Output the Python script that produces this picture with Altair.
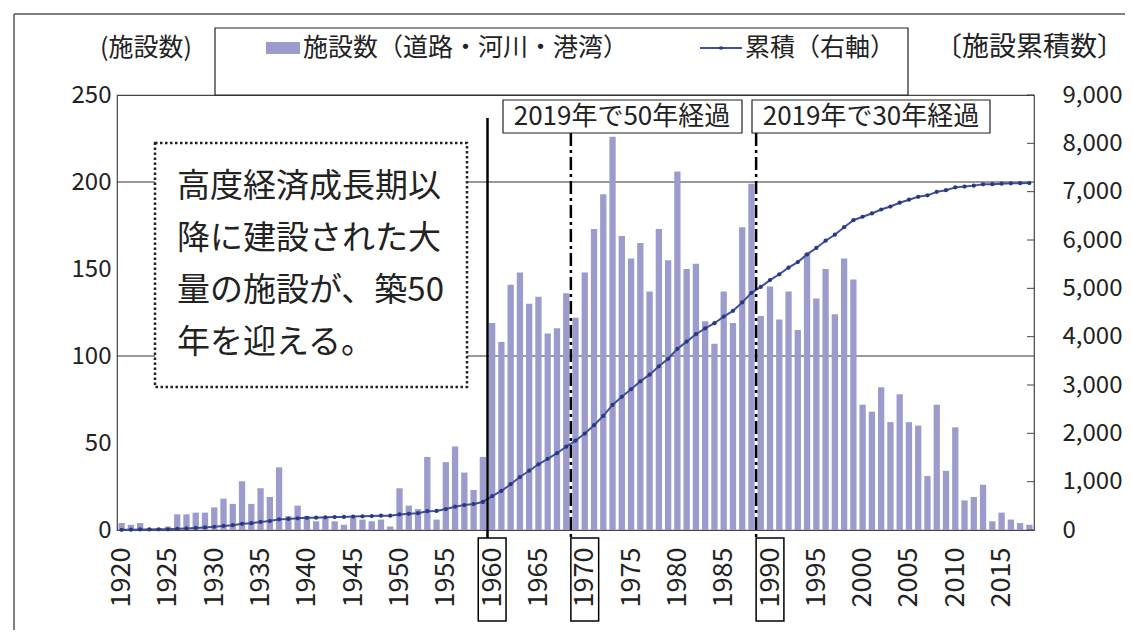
import altair as alt
import pandas as pd

FONT = "Noto Sans CJK JP"

# ---- data ----
years = list(range(1920, 2019))
counts = [
    4, 3, 4, 1, 1, 2, 9, 9, 10, 10,            # 1920-1929
    13, 18, 15, 28, 15, 24, 19, 36, 8, 14,     # 1930-1939
    8, 5, 7, 5, 3, 7, 6, 5, 6, 2,              # 1940-1949
    24, 14, 12, 42, 6, 39, 48, 33, 23, 42,     # 1950-1959
    119, 108, 141, 148, 130, 134, 113, 116, 136, 122,  # 1960-1969
    148, 173, 193, 226, 169, 156, 165, 137, 173, 155,  # 1970-1979
    206, 150, 153, 120, 107, 137, 119, 174, 199, 123,  # 1980-1989
    140, 121, 137, 115, 159, 133, 150, 124, 156, 144,  # 1990-1999
    72, 68, 82, 62, 78, 62, 60, 31, 72, 34,            # 2000-2009
    59, 17, 19, 26, 5, 10, 6, 4, 3,                    # 2010-2018
]
x_tick_years = list(range(1920, 2016, 5))
boxed_label_years = [1960, 1970, 1990]
solid_line_years = [1960]
dash_line_years = [1969, 1989]
left_ticks = [0, 50, 100, 150, 200, 250]
left_grid = [100, 200]
right_ticks = list(range(0, 9001, 1000))

legend_bar_label = "施設数（道路・河川・港湾）"
legend_line_label = "累積（右軸）"
left_title = "(施設数)"
right_title = "〔施設累積数〕"
note_50 = "2019年で50年経過"
note_30 = "2019年で30年経過"
callout = "高度経済成長期以\n降に建設された大\n量の施設が、築50\n年を迎える。"

BAR = "#9c9ccc"
LINE = "#3f4fa0"
DOT = "#2c3878"

W, H = 917, 435
df = pd.DataFrame({"year": years, "count": counts})
xs = alt.Scale(domain=[1919.5, 2018.5], nice=False, zero=False)
ys_left = alt.Scale(domain=[0, 250], nice=False)
ys_right = alt.Scale(domain=[0, 9000], nice=False)
one = pd.DataFrame({"k": [0]})

X_AXIS = alt.Axis(values=x_tick_years, labelExpr="format(datum.value, 'd')", labelAngle=270,
                  labelFont=FONT, labelFontSize=27, labelColor="#222", ticks=False,
                  domain=False, grid=False, title=None, labelPadding=17, labelBound=False,
                  labelOverlap=False)
YL_AXIS = alt.Axis(values=left_ticks, labelFont=FONT, labelFontSize=24, labelColor="#222",
                   ticks=False, domain=False, grid=False, title=None, labelPadding=6,
                   labelOverlap=False)
YR_AXIS = alt.Axis(orient="right", values=right_ticks, labelExpr="format(datum.value, ',')",
                   labelFont=FONT, labelFontSize=24, labelColor="#222", ticks=False,
                   domain=False, grid=False, title=None, labelPadding=28, labelOverlap=False)

grid = alt.Chart(pd.DataFrame({"v": left_grid})).mark_rule(color="#333", strokeWidth=1.2).encode(
    y=alt.Y("v:Q", scale=ys_left, axis=YL_AXIS))

bars = alt.Chart(df).transform_calculate(
    x0="datum.year - 0.34", x1="datum.year + 0.34"
).mark_rect(color=BAR).encode(
    x=alt.X("x0:Q", scale=xs, axis=X_AXIS),
    x2="x1:Q",
    y=alt.Y("count:Q", scale=ys_left, axis=YL_AXIS),
    y2=alt.datum(0),
)
left_group = alt.layer(grid, bars)

line = alt.Chart(df).transform_window(
    cum="sum(count)", sort=[alt.SortField("year")], frame=[None, 0]
).mark_line(color=LINE, strokeWidth=2,
            point=alt.OverlayMarkDef(filled=True, size=18, color=DOT)).encode(
    x=alt.X("year:Q", scale=xs, axis=X_AXIS),
    y=alt.Y("cum:Q", scale=ys_right, axis=YR_AXIS),
)
rticks = alt.Chart(pd.DataFrame({"v": right_ticks})).mark_rule(color="#444").encode(
    y=alt.Y("v:Q", scale=ys_right, axis=YR_AXIS), x=alt.value(W - 7), x2=alt.value(W))
right_group = alt.layer(rticks, line)

# vertical marker lines at the left edge of the marked years
solid = alt.Chart(pd.DataFrame({"year": solid_line_years})).transform_calculate(
    xe="datum.year - 0.5").mark_rule(color="#000", strokeWidth=2.5).encode(
    x=alt.X("xe:Q", scale=xs, axis=X_AXIS), y=alt.value(23), y2=alt.value(443))
dash = alt.Chart(pd.DataFrame({"year": dash_line_years})).transform_calculate(
    xe="datum.year - 0.5").mark_rule(color="#000", strokeWidth=2.5,
                                     strokeDash=[13, 4, 3, 4]).encode(
    x=alt.X("xe:Q", scale=xs, axis=X_AXIS), y=alt.value(38), y2=alt.value(443))
label_boxes = alt.Chart(pd.DataFrame({"year": boxed_label_years})).transform_calculate(
    a="datum.year - 1.5", b="datum.year + 1.5").mark_rect(
    fillOpacity=0, stroke="#000", strokeWidth=1.5).encode(
    x=alt.X("a:Q", scale=xs, axis=X_AXIS), x2="b:Q", y=alt.value(443), y2=alt.value(526))


def box(x1, y1, x2, y2, **kw):
    return alt.Chart(one).mark_rect(**kw).encode(
        x=alt.value(x1), x2=alt.value(x2), y=alt.value(y1), y2=alt.value(y2))


def text(s, x, y, size, align="left", **kw):
    return alt.Chart(pd.DataFrame({"t": [s]})).mark_text(
        font=FONT, fontSize=size, align=align, baseline="middle", color="#222", **kw
    ).encode(text="t:N", x=alt.value(x), y=alt.value(y))


note_boxes = alt.layer(
    box(386, 5, 625, 38, fill="white", stroke="#222", strokeWidth=1.2),
    text(note_50, 505, 22, 26, align="center"),
    box(635, 5, 873, 38, fill="white", stroke="#222", strokeWidth=1.2),
    text(note_30, 754, 22, 26, align="center"),
)

callout_layer = alt.layer(
    box(38, 48, 350, 292, fill="white", stroke="#222", strokeWidth=2.5, strokeDash=[2.5, 2.5]),
    alt.Chart(pd.DataFrame({"t": [callout]})).mark_text(
        font=FONT, fontSize=33, align="left", baseline="middle", color="#222",
        lineBreak="\n", lineHeight=52).encode(text="t:N", x=alt.value(60), y=alt.value(92)),
)

legend = alt.layer(
    box(98, -67, 791, 0, fill="white", stroke="#222", strokeWidth=1.2),
    box(149, -53, 183, -41, fill=BAR),
    text(legend_bar_label, 186, -47, 25),
    alt.Chart(one).mark_rule(color=LINE, strokeWidth=2).encode(
        x=alt.value(583), x2=alt.value(625), y=alt.value(-47)),
    alt.Chart(one).mark_point(filled=True, size=18, color=DOT).encode(
        x=alt.value(604), y=alt.value(-47)),
    text(legend_line_label, 628, -47, 25),
    text(left_title, -17, -47, 25),
    text(right_title, 818, -47, 27),
)

frame = alt.layer(
    alt.Chart(one).mark_rule(color="#555", strokeWidth=1.5).encode(
        x=alt.value(-103), x2=alt.value(1010), y=alt.value(-81)),
    alt.Chart(one).mark_rule(color="#555", strokeWidth=1.5).encode(
        x=alt.value(-103), y=alt.value(-81), y2=alt.value(535)),
)

chart = alt.layer(
    left_group, right_group, solid, dash, label_boxes, note_boxes, callout_layer, legend, frame
).resolve_scale(y="independent").properties(
    width=W, height=H,
    autosize=alt.AutoSizeParams(type="none"),
    padding={"left": 109, "top": 87, "right": 91, "bottom": 100},
    background="white",
).configure_view(stroke="#444", strokeWidth=1.2)

chart.save("out.html", embed_options={"renderer": "svg", "actions": False})
